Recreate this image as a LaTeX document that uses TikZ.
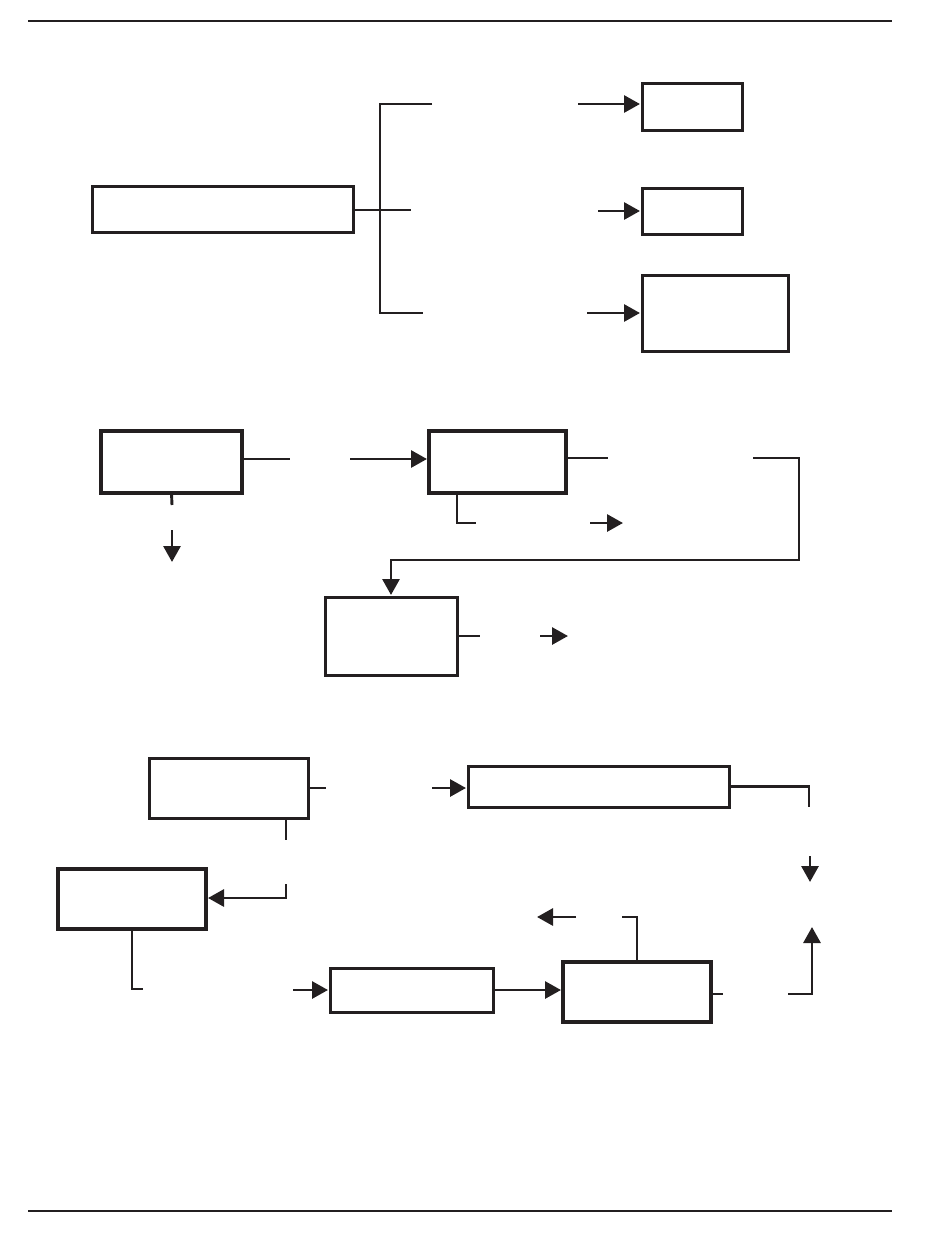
\documentclass[tikz,border=0pt]{standalone}
\usetikzlibrary{arrows.meta}
\definecolor{ink}{HTML}{231F20}
\tikzset{box/.style={draw=ink, line width=3pt, inner sep=0pt, outer sep=0pt, anchor=north west}}
\tikzset{heavybox/.style={box, line width=4.2pt}}
\tikzset{link/.style={draw=ink, line width=2.9pt}}
\tikzset{flow/.style={link, -{Triangle[length=16pt,width=17pt]}}}
\tikzset{feed/.style={flow, shorten >=2pt}}

\begin{document}
\begin{tikzpicture}[x=1pt, y=-1pt]
\useasboundingbox (0,0) rectangle (950,1248);
\draw[ink, line width=2pt] (28,21) -- (892,21);
\draw[ink, line width=2pt] (28,1211) -- (892,1211);

% upper group: one box forking into three
\node[box, minimum width=261pt, minimum height=46pt] (source) at (92,186) {};
\node[box, minimum width=100pt, minimum height=47pt] (outA) at (642,83) {};
\node[box, minimum width=100pt, minimum height=46pt] (outB) at (642,188) {};
\node[box, minimum width=146pt, minimum height=76pt] (outC) at (642,275) {};
\coordinate (forkT) at (380,104);
\coordinate (forkB) at (380,313);
\coordinate (forkTend) at (432,104);
\coordinate (forkBend) at (423,313);
\coordinate (forkM) at (411,210);
\coordinate (inA) at (578,104);
\coordinate (inB) at (598,211);
\coordinate (inC) at (587,313);
\draw[link] (forkTend) -- (forkT) -- (forkB) -- (forkBend);
\draw[link] (forkM -| source.east) -- (forkM);
\draw[feed] (inA) -- (inA -| outA.west);
\draw[feed] (inB) -- (inB -| outB.west);
\draw[feed] (inC) -- (inC -| outC.west);

% middle group
\node[heavybox, minimum width=141pt, minimum height=62pt] (stageA) at (101,431) {};
\node[heavybox, minimum width=137pt, minimum height=62pt] (stageB) at (429,431) {};
\node[box, minimum width=132pt, minimum height=78pt] (stageC) at (325,597) {};
\coordinate (aOut) at (290,459);
\coordinate (aIn) at (350,459);
\coordinate (bOut) at (608,458);
\coordinate (bBack) at (753,458);
\coordinate (bCorner) at (799,458);
\coordinate (bTurn) at (391,560);
\coordinate (bDrop) at (476,523);
\coordinate (bNext) at (590,523);
\coordinate (bNextEnd) at (623,523);
\coordinate (cOut) at (480,636);
\coordinate (cNext) at (540,636);
\coordinate (cNextEnd) at (568,636);
\coordinate (aStub) at (172,505);
\coordinate (aDown) at (172,530);
\coordinate (aDownEnd) at (172,562);
\draw[link] (aOut -| stageA.east) -- (aOut);
\draw[feed] (aIn) -- (aIn -| stageB.west);
\draw[link] (bOut -| stageB.east) -- (bOut);
\draw[feed] (bBack) -- (bCorner) -- (bTurn -| bCorner) -- (bTurn) -- (stageC.north);
\draw[link] (stageB.south west) ++(28,0) |- (bDrop);
\draw[flow] (bNext) -- (bNextEnd);
\draw[link] (stageC.east) -- (cOut);
\draw[flow] (cNext) -- (cNextEnd);
\draw[link] (stageA.south) -- (aStub);
\draw[flow] (aDown) -- (aDownEnd);

% lower group: the loop
\node[box, minimum width=159pt, minimum height=60pt] (entry) at (149,758) {};
\node[box, minimum width=261pt, minimum height=41pt] (wide) at (468,766) {};
\node[heavybox, minimum width=148pt, minimum height=60pt] (back) at (58,869) {};
\node[box, minimum width=163pt, minimum height=44pt] (mid) at (330,968) {};
\node[heavybox, minimum width=148pt, minimum height=60pt] (hub) at (563,962) {};
\coordinate (fOut) at (326,788);
\coordinate (fIn) at (432,788);
\coordinate (gDrop) at (809,807);
\coordinate (gDown) at (810,856);
\coordinate (gDownEnd) at (810,882);
\coordinate (hOut) at (788,994);
\coordinate (hUp) at (812,927);
\coordinate (hStub) at (723,994);
\coordinate (hTop) at (622,917);
\coordinate (hLeft) at (576,917);
\coordinate (hLeftEnd) at (537,917);
\coordinate (jIn) at (293,990);
\coordinate (iStub) at (143,989);
\coordinate (fStub) at (286,840);
\coordinate (fBack) at (286,884);
\coordinate (fTurn) at (286,898);
\draw[link] (entry.east) -- (fOut);
\draw[feed] (fIn) -- (fIn -| wide.west);
\draw[link] (wide.east) -| (gDrop);
\draw[flow] (gDown) -- (gDownEnd);
\draw[flow] (hOut) -| (hUp);
\draw[link] (hStub -| hub.east) -- (hStub);
\draw[link] (hub.north) |- (hTop);
\draw[flow] (hLeft) -- (hLeftEnd);
\draw[feed] (mid.east) -- (mid.east -| hub.west);
\draw[feed] (jIn) -- (jIn -| mid.west);
\draw[link] (back.south) |- (iStub);
\draw[link] (fStub |- entry.south) -- (fStub);
\draw[feed] (fBack) -- (fTurn) -- (fTurn -| back.east);
\end{tikzpicture}
\end{document}
